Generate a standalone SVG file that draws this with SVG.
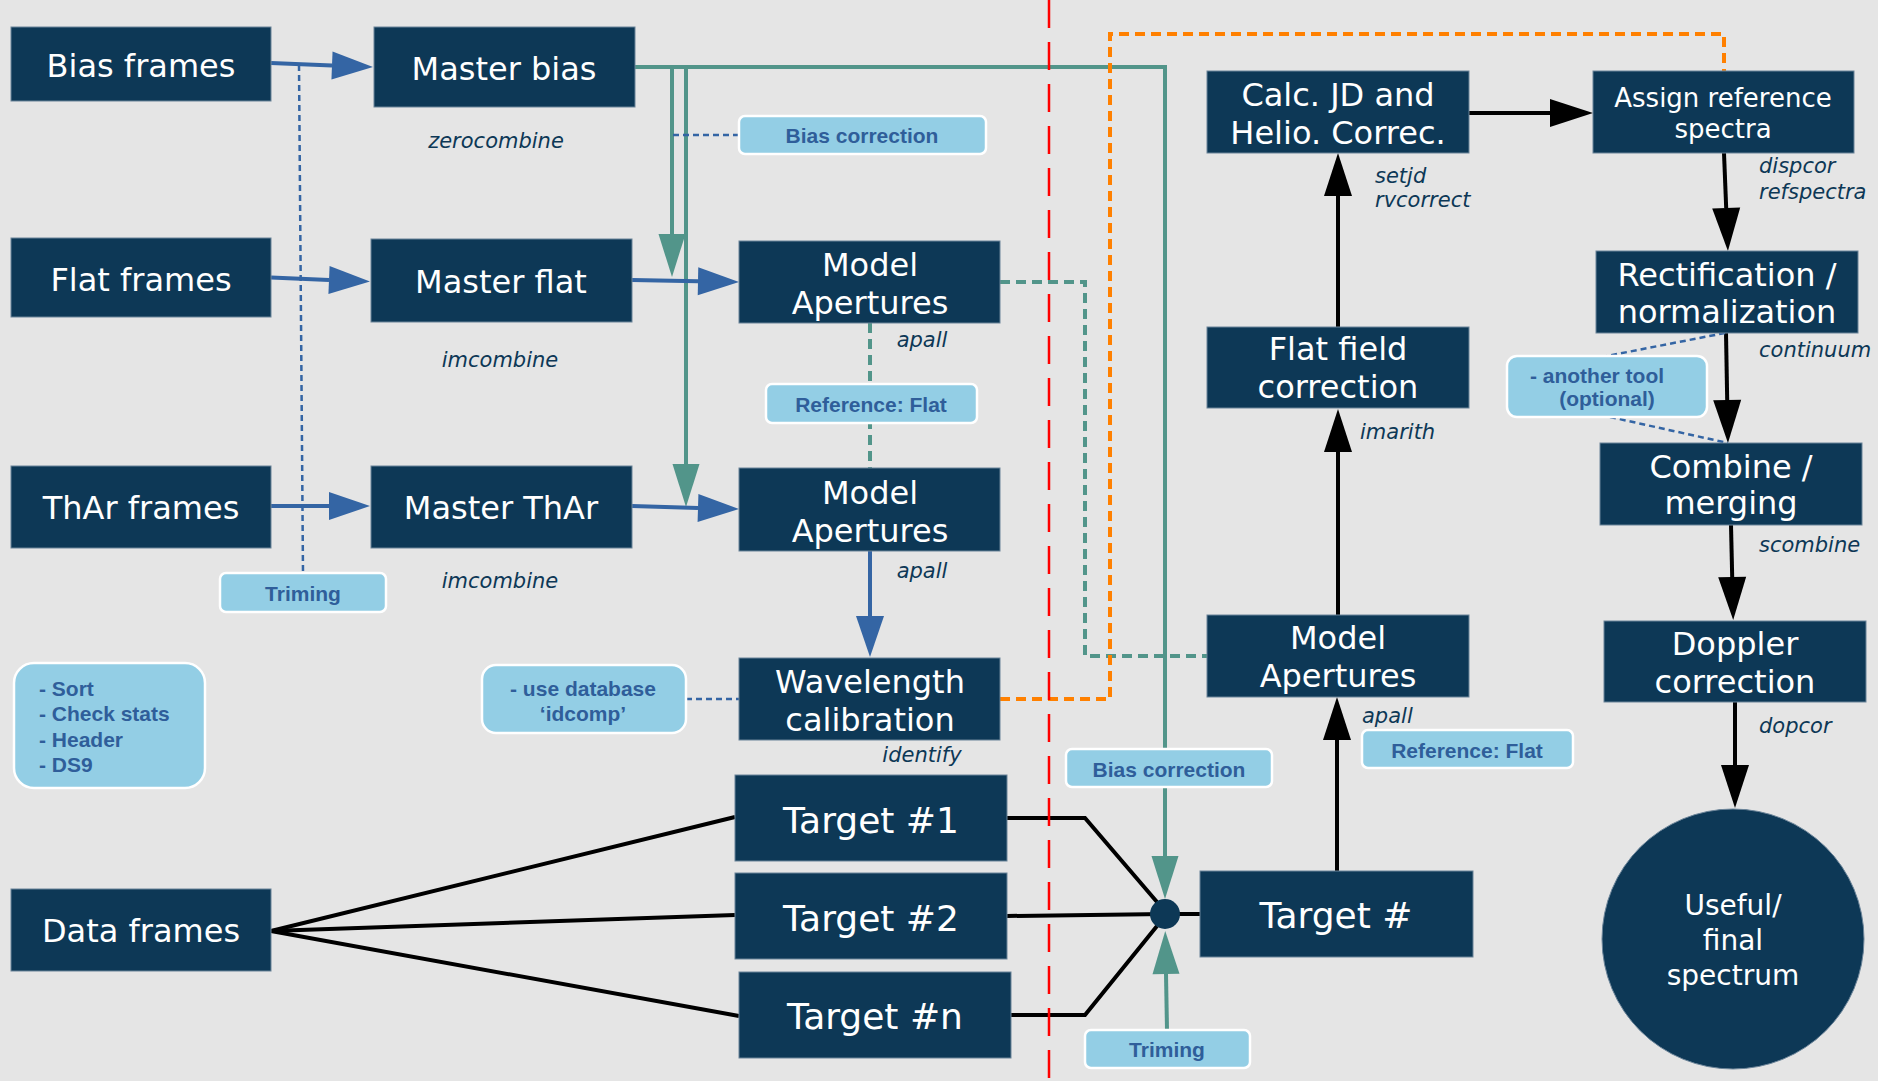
<svg xmlns="http://www.w3.org/2000/svg" width="1878" height="1081" viewBox="0 0 1878 1081">
<defs>
<style>
.node rect,.node ellipse{fill:#0d3856;stroke:#6b8499;stroke-width:1}
.nt{font-family:"DejaVu Sans",sans-serif;fill:#fff;text-anchor:middle;font-size:32px}
.it{font-family:"DejaVu Sans",sans-serif;font-style:italic;font-size:21px;fill:#0d3856}
.tag rect{fill:#93cee5;stroke:#fff;stroke-width:2.5}
.tt{font-family:"Liberation Sans",Arial,sans-serif;font-weight:bold;font-size:21px;fill:#2f5e9a;text-anchor:middle}
.tl{font-family:"Liberation Sans",Arial,sans-serif;font-weight:bold;font-size:21px;fill:#2f5e9a}
.blue{fill:none;stroke:#3465a4;stroke-width:4}
.green{fill:none;stroke:#52958a;stroke-width:4}
.gdash{fill:none;stroke:#52958a;stroke-width:4;stroke-dasharray:10 6}
.orange{fill:none;stroke:#ff8000;stroke-width:4;stroke-dasharray:10 6}
.red{fill:none;stroke:#ff0000;stroke-width:2.5;stroke-dasharray:28 14}
.dot{fill:none;stroke:#3465a4;stroke-width:2.5;stroke-dasharray:6 4}
.black{fill:none;stroke:#000;stroke-width:4}
</style>
<marker id="mb" markerUnits="userSpaceOnUse" markerWidth="42" markerHeight="28" refX="0" refY="14" orient="auto" overflow="visible"><path d="M0,0 L41,14 L0,28 z" fill="#3465a4"/></marker>
<marker id="mg" markerUnits="userSpaceOnUse" markerWidth="43" markerHeight="27" refX="0" refY="13.5" orient="auto" overflow="visible"><path d="M0,0 L43,13.5 L0,27 z" fill="#52958a"/></marker>
<marker id="mk" markerUnits="userSpaceOnUse" markerWidth="43" markerHeight="28" refX="0" refY="14" orient="auto" overflow="visible"><path d="M0,0 L43,14 L0,28 z" fill="#000"/></marker>
</defs>
<rect x="0" y="0" width="1878" height="1081" fill="#e5e5e5"/>

<g id="connectors">
<path class="green" d="M635,67 H1165 V856" marker-end="url(#mg)"/>
<path class="green" d="M672,67 V234" marker-end="url(#mg)"/>
<path class="green" d="M686,67 V464" marker-end="url(#mg)"/>
<path class="green" d="M1167,1030 L1166,974" marker-end="url(#mg)"/>
<path class="gdash" d="M1000,282 H1085 V656 H1207"/>
<path class="gdash" d="M870,323 V468"/>
<path class="orange" d="M1000,699 H1110 V34 H1724 V71"/>
<path class="black" d="M271,931 L735,817"/>
<path class="black" d="M271,931 L735,915"/>
<path class="black" d="M271,931 L739,1016"/>
<path class="black" d="M1007,818 H1085 L1157,902"/>
<path class="black" d="M1007,916 L1165,914"/>
<path class="black" d="M1011,1015 H1085 L1157,926"/>
<path class="black" d="M1165,914 H1200"/>
<path class="black" d="M1337,871 V740" marker-end="url(#mk)"/>
<path class="black" d="M1338,615 V452" marker-end="url(#mk)"/>
<path class="black" d="M1338,327 V196" marker-end="url(#mk)"/>
<path class="black" d="M1469,113 H1550" marker-end="url(#mk)"/>
<path class="black" d="M1724,153 L1726.2,208" marker-end="url(#mk)"/>
<path class="black" d="M1726,333 L1727.2,400" marker-end="url(#mk)"/>
<path class="black" d="M1731,525 L1732.2,577" marker-end="url(#mk)"/>
<path class="black" d="M1735,702 V765" marker-end="url(#mk)"/>
<path class="blue" d="M271,63 L332,65.4" marker-end="url(#mb)"/>
<path class="blue" d="M271,277.5 L329,279.9" marker-end="url(#mb)"/>
<path class="blue" d="M271,506 H329" marker-end="url(#mb)"/>
<path class="blue" d="M632,280 L698,281.2" marker-end="url(#mb)"/>
<path class="blue" d="M632,506 L698,507.9" marker-end="url(#mb)"/>
<path class="blue" d="M870,551 V616" marker-end="url(#mb)"/>
<path class="dot" d="M299,65 L303,573"/>
<path class="dot" d="M673,135 H739"/>
<path class="dot" d="M686,699 H739"/>
<path class="dot" d="M1725,333 L1607,356"/>
<path class="dot" d="M1610,417 L1728,443"/>
<path class="red" d="M1049,0 V1081"/>
<circle cx="1165" cy="914" r="15" fill="#0d3856"/>
</g>

<g id="bias-frames" class="node"><rect x="11" y="27" width="260" height="74"/><text class="nt" x="141" y="77">Bias frames</text></g>
<g id="flat-frames" class="node"><rect x="11" y="238" width="260" height="79"/><text class="nt" x="141" y="291">Flat frames</text></g>
<g id="thar-frames" class="node"><rect x="11" y="466" width="260" height="82"/><text class="nt" x="141" y="519">ThAr frames</text></g>
<g id="data-frames" class="node"><rect x="11" y="889" width="260" height="82"/><text class="nt" x="141" y="942">Data frames</text></g>
<g id="master-bias" class="node"><rect x="374" y="27" width="261" height="80"/><text class="nt" x="504" y="80">Master bias</text></g>
<g id="master-flat" class="node"><rect x="371" y="239" width="261" height="83"/><text class="nt" x="501" y="293">Master flat</text></g>
<g id="master-thar" class="node"><rect x="371" y="466" width="261" height="82"/><text class="nt" x="501" y="519">Master ThAr</text></g>
<g id="model-apertures-flat" class="node"><rect x="739" y="241" width="261" height="82"/><text class="nt" x="870" y="276">Model</text><text class="nt" x="870" y="314">Apertures</text></g>
<g id="model-apertures-thar" class="node"><rect x="739" y="468" width="261" height="83"/><text class="nt" x="870" y="504">Model</text><text class="nt" x="870" y="542">Apertures</text></g>
<g id="wavelength-calibration" class="node"><rect x="739" y="658" width="261" height="82"/><text class="nt" x="870" y="693">Wavelength</text><text class="nt" x="870" y="731">calibration</text></g>
<g id="target-1" class="node"><rect x="735" y="775" width="272" height="86"/><text class="nt" x="871" y="833" style="font-size:36px">Target #1</text></g>
<g id="target-2" class="node"><rect x="735" y="873" width="272" height="86"/><text class="nt" x="871" y="931" style="font-size:36px">Target #2</text></g>
<g id="target-n" class="node"><rect x="739" y="972" width="272" height="86"/><text class="nt" x="875" y="1029" style="font-size:36px">Target #n</text></g>
<g id="target" class="node"><rect x="1200" y="871" width="273" height="86"/><text class="nt" x="1336" y="928" style="font-size:36px">Target #</text></g>
<g id="model-apertures-target" class="node"><rect x="1207" y="615" width="262" height="82"/><text class="nt" x="1338" y="649">Model</text><text class="nt" x="1338" y="687">Apertures</text></g>
<g id="flat-field-correction" class="node"><rect x="1207" y="327" width="262" height="81"/><text class="nt" x="1338" y="360">Flat field</text><text class="nt" x="1338" y="398">correction</text></g>
<g id="calc-jd" class="node"><rect x="1207" y="71" width="262" height="82"/><text class="nt" x="1338" y="106">Calc. JD and</text><text class="nt" x="1338" y="144">Helio. Correc.</text></g>
<g id="assign-reference" class="node"><rect x="1593" y="71" width="261" height="82"/><text class="nt" x="1723" y="107" style="font-size:26px">Assign reference</text><text class="nt" x="1723" y="138" style="font-size:26px">spectra</text></g>
<g id="rectification" class="node"><rect x="1596" y="251" width="262" height="82"/><text class="nt" x="1727" y="286">Rectification /</text><text class="nt" x="1727" y="323">normalization</text></g>
<g id="combine" class="node"><rect x="1600" y="443" width="262" height="82"/><text class="nt" x="1731" y="478">Combine /</text><text class="nt" x="1731" y="514">merging</text></g>
<g id="doppler" class="node"><rect x="1604" y="621" width="262" height="81"/><text class="nt" x="1735" y="655">Doppler</text><text class="nt" x="1735" y="693">correction</text></g>
<g id="final-spectrum" class="node"><ellipse cx="1733" cy="939" rx="131" ry="130"/><text class="nt" x="1733" y="915" style="font-size:28px">Useful/</text><text class="nt" x="1733" y="950" style="font-size:28px">final</text><text class="nt" x="1733" y="985" style="font-size:28px">spectrum</text></g>

<g id="tool-labels">
<text class="it" x="496" y="148" text-anchor="middle">zerocombine</text>
<text class="it" x="500" y="367" text-anchor="middle">imcombine</text>
<text class="it" x="500" y="588" text-anchor="middle">imcombine</text>
<text class="it" x="922" y="347" text-anchor="middle">apall</text>
<text class="it" x="922" y="578" text-anchor="middle">apall</text>
<text class="it" x="922" y="762" text-anchor="middle">identify</text>
<text class="it" x="1375" y="183">setjd</text>
<text class="it" x="1375" y="207">rvcorrect</text>
<text class="it" x="1759" y="173">dispcor</text>
<text class="it" x="1759" y="199">refspectra</text>
<text class="it" x="1759" y="357">continuum</text>
<text class="it" x="1360" y="439">imarith</text>
<text class="it" x="1759" y="552">scombine</text>
<text class="it" x="1759" y="733">dopcor</text>
<text class="it" x="1362" y="723">apall</text>
</g>

<g id="note-bias-correction-1" class="tag"><rect x="739" y="116" width="247" height="38" rx="6"/><text class="tt" x="862" y="143">Bias correction</text></g>
<g id="note-reference-flat-1" class="tag"><rect x="766" y="384" width="211" height="39" rx="6"/><text class="tt" x="871" y="412">Reference: Flat</text></g>
<g id="note-triming-1" class="tag"><rect x="220" y="573" width="166" height="39" rx="6"/><text class="tt" x="303" y="601">Triming</text></g>
<g id="note-sort" class="tag"><rect x="14" y="663" width="191" height="125" rx="20"/><text class="tl" x="39" y="696">- Sort</text><text class="tl" x="39" y="721">- Check stats</text><text class="tl" x="39" y="747">- Header</text><text class="tl" x="39" y="772">- DS9</text></g>
<g id="note-database" class="tag"><rect x="482" y="665" width="204" height="68" rx="14"/><text class="tt" x="583" y="696">- use database</text><text class="tt" x="583" y="721">‘idcomp’</text></g>
<g id="note-another-tool" class="tag"><rect x="1507" y="356" width="200" height="61" rx="10"/><text class="tt" x="1597" y="383">- another tool</text><text class="tt" x="1607" y="406">(optional)</text></g>
<g id="note-bias-correction-2" class="tag"><rect x="1066" y="749" width="206" height="38" rx="6"/><text class="tt" x="1169" y="777">Bias correction</text></g>
<g id="note-reference-flat-2" class="tag"><rect x="1362" y="730" width="211" height="38" rx="6"/><text class="tt" x="1467" y="758">Reference: Flat</text></g>
<g id="note-triming-2" class="tag"><rect x="1085" y="1030" width="165" height="38" rx="6"/><text class="tt" x="1167" y="1057">Triming</text></g>
</svg>
